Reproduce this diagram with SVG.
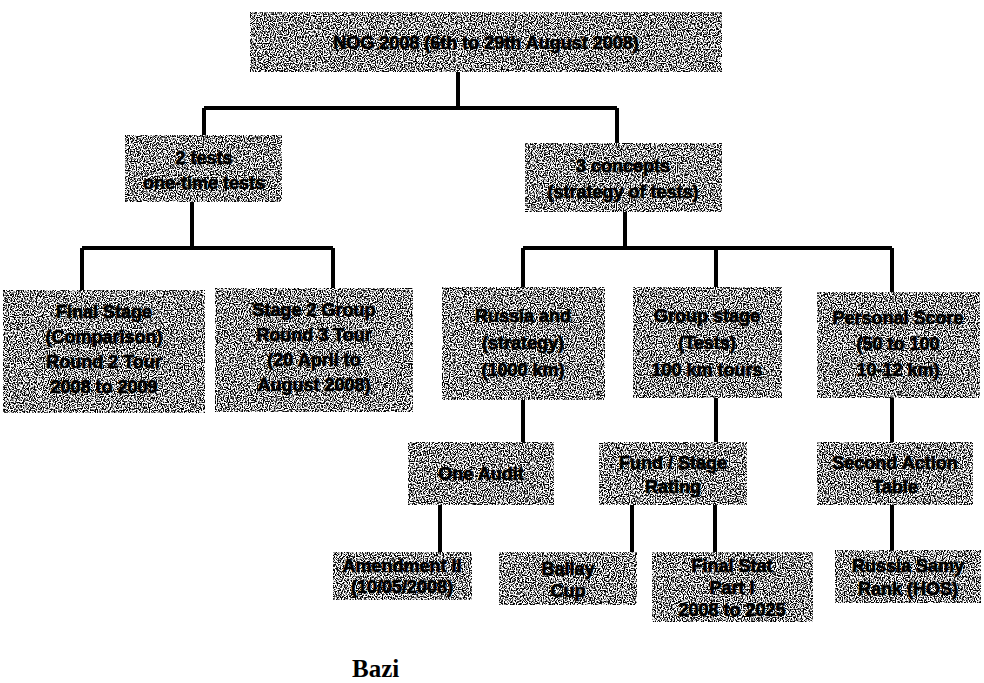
<svg xmlns="http://www.w3.org/2000/svg" width="984" height="683" viewBox="0 0 984 683">
<style>
.box{fill:#8a8a8a;filter:url(#grain)}
.t{font-family:"Liberation Sans",Arial,sans-serif;font-weight:bold;font-size:18px;fill:#000;stroke:#000;stroke-width:0.7;text-anchor:middle}
.ln{stroke:#000;stroke-width:4;fill:none}
</style>
<defs>
<filter id="grain" x="0" y="0" width="1" height="1" color-interpolation-filters="sRGB">
<feTurbulence type="fractalNoise" baseFrequency="0.85" numOctaves="1" seed="3" result="n"/>
<feColorMatrix in="n" type="matrix" values="0 0 0 0 0  0 0 0 0 0  0 0 0 0 0  -7 0 0 0 3.9" result="d"/>
<feFlood flood-color="#ffffff" result="w"/>
<feComposite in="w" in2="SourceGraphic" operator="in" result="bg"/>
<feComposite in="d" in2="SourceGraphic" operator="in" result="d2"/>
<feMerge><feMergeNode in="bg"/><feMergeNode in="d2"/></feMerge>
</filter>
</defs>
<rect width="984" height="683" fill="#fff"/>
<g id="connectors" class="ln">
<path d="M458 72V108M204 108H617M204 108V135M617 108V143"/>
<path d="M192 202V248M82 248H333M82 248V290M333 248V288"/>
<path d="M625 212V248M523 248H892M523 248V287M716 248V287M892 248V292"/>
<path d="M523 400V442M716 398V442M892 398V442"/>
<path d="M440 505V552M632 505V552M715 505V552M892 505V550"/>
</g>
<g id="n-top"><rect class="box" x="250" y="12" width="472" height="60"/><text class="t" x="486" y="49" font-size="21">NOG 2008 (6th to 29th August 2008)</text></g>
<g id="n-tests"><rect class="box" x="125" y="135" width="157" height="67"/><text class="t" x="204" y="164">2 tests</text><text class="t" x="204" y="189">one-time tests</text></g>
<g id="n-concepts"><rect class="box" x="525" y="143" width="197" height="69"/><text class="t" x="623" y="172">3 concepts</text><text class="t" x="623" y="198">(strategy of tests)</text></g>
<g id="n-a"><rect class="box" x="3" y="290" width="202" height="123"/><text class="t" x="104" y="318">Final Stage</text><text class="t" x="104" y="343">(Comparison)</text><text class="t" x="104" y="368">Round 2 Tour</text><text class="t" x="104" y="393">2008 to 2009</text></g>
<g id="n-b"><rect class="box" x="215" y="288" width="198" height="124"/><text class="t" x="314" y="316">Stage 2 Group</text><text class="t" x="314" y="341">Round 3 Tour</text><text class="t" x="314" y="366">(20 April to</text><text class="t" x="314" y="391">August 2008)</text></g>
<g id="n-c"><rect class="box" x="442" y="287" width="163" height="113"/><text class="t" x="523" y="322">Russia and</text><text class="t" x="523" y="349">(strategy)</text><text class="t" x="523" y="376">(1000 km)</text></g>
<g id="n-d"><rect class="box" x="633" y="287" width="149" height="111"/><text class="t" x="707" y="322">Group stage</text><text class="t" x="707" y="349">(Tests)</text><text class="t" x="707" y="376">100 km tours</text></g>
<g id="n-e"><rect class="box" x="817" y="292" width="163" height="106"/><text class="t" x="898" y="324">Personal Score</text><text class="t" x="898" y="350">(50 to 100</text><text class="t" x="898" y="376">10-12 km)</text></g>
<g id="n-f"><rect class="box" x="408" y="442" width="146" height="63"/><text class="t" x="481" y="480">One Audit</text></g>
<g id="n-g"><rect class="box" x="599" y="442" width="148" height="63"/><text class="t" x="673" y="469">Fund / Stage</text><text class="t" x="673" y="493">Rating</text></g>
<g id="n-h"><rect class="box" x="817" y="442" width="156" height="63"/><text class="t" x="895" y="469">Second Action</text><text class="t" x="895" y="493">Table</text></g>
<g id="n-i"><rect class="box" x="333" y="552" width="139" height="48"/><text class="t" x="402" y="572">Amendment II</text><text class="t" x="402" y="593">(10/05/2008)</text></g>
<g id="n-j"><rect class="box" x="499" y="552" width="138" height="53"/><text class="t" x="568" y="575">Ballay</text><text class="t" x="568" y="597">Cup</text></g>
<g id="n-k"><rect class="box" x="652" y="552" width="161" height="70"/><text class="t" x="732" y="572">Final Stat</text><text class="t" x="732" y="594">Part I</text><text class="t" x="732" y="616">2008 to 2025</text></g>
<g id="n-l"><rect class="box" x="835" y="550" width="146" height="53"/><text class="t" x="908" y="572">Russia Samy</text><text class="t" x="908" y="595">Rank (HOS)</text></g>
<text x="352" y="677" font-family="Liberation Serif,'Times New Roman',serif" font-weight="bold" font-size="25" fill="#000">Bazi</text>
</svg>
